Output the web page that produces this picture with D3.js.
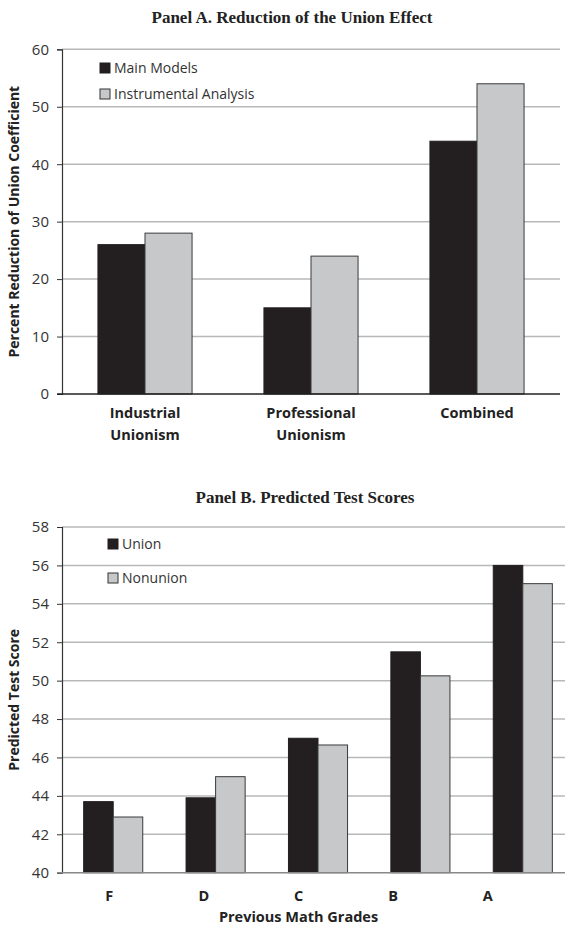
<!DOCTYPE html>
<html>
<head>
<meta charset="utf-8">
<script src="https://cdn.jsdelivr.net/npm/d3@7"></script>
<style>
    body { margin: 0; background: #fff; }
    svg { display: block; }
    .tick-label { font-family: "Open Sans", sans-serif; font-size: 15px; fill: #333; }
    .cat-label { font-family: "Open Sans", sans-serif; font-size: 14.5px; font-weight: bold; fill: #222; }
    .axis-title { font-family: "Open Sans", sans-serif; font-size: 14px; font-weight: bold; fill: #222; }
    .legend-text { font-family: "Open Sans", sans-serif; font-size: 14px; fill: #333; }
    .panel-title { font-family: "Liberation Serif", "Times New Roman", serif; font-size: 17px; font-weight: bold; fill: #222; }
</style>
</head>
<body>
<script>
    // Panel A data
    var catsA = [['Industrial', 'Unionism'], ['Professional', 'Unionism'], ['Combined']];
    var mainModels = [26, 15, 44];
    var instrumental = [28, 24, 54];
    var ticksA = [0, 10, 20, 30, 40, 50, 60];
    var seriesA = ['Main Models', 'Instrumental Analysis'];

    // Panel B data
    var grades = ['F', 'D', 'C', 'B', 'A'];
    var unionScores = [43.7, 43.9, 47.0, 51.5, 56.0];
    var nonunionScores = [42.9, 45.0, 46.65, 50.25, 55.05];
    var ticksB = [40, 42, 44, 46, 48, 50, 52, 54, 56, 58];
    var seriesB = ['Union', 'Nonunion'];

    var width = 565;
    var height = 926;
    var dark = '#231f20';
    var light = '#c7c8ca';

    var svg = d3.select('body')
        .append('svg')
        .attr('width', width)
        .attr('height', height);

    function drawPanel(opt) {
        var g = svg.append('g');
        var ids = opt.cats.map(function (d, i) { return i; });

        var x = d3.scaleBand()
            .domain(ids)
            .range([opt.left, opt.right])
            .paddingInner(opt.pad)
            .paddingOuter(opt.pad / 2);

        var xLabel = d3.scaleBand()
            .domain(ids)
            .range([opt.left, opt.labelRight]);

        var x1 = d3.scaleBand()
            .domain([0, 1])
            .range([0, x.bandwidth()]);

        var y = d3.scaleLinear()
            .domain(opt.domain)
            .range([opt.bottom, opt.top]);

        // gridlines
        g.selectAll('line.grid')
            .data(opt.ticks.slice(1))
            .enter()
            .append('line')
            .attr('class', 'grid')
            .attr('x1', opt.left)
            .attr('x2', opt.gridRight)
            .attr('y1', function (d) { return y(d); })
            .attr('y2', function (d) { return y(d); })
            .attr('stroke', '#b8b8b8')
            .attr('stroke-width', 1.5);

        // y axis
        var yAxis = d3.axisLeft(y)
            .tickValues(opt.ticks)
            .tickSize(5)
            .tickPadding(8);

        var ya = g.append('g')
            .attr('transform', 'translate(' + opt.left + ',0)')
            .call(yAxis);
        ya.select('.domain').attr('stroke', '#333').attr('stroke-width', 1.2);
        ya.selectAll('.tick line').attr('stroke', '#333');
        ya.selectAll('.tick text')
            .attr('class', 'tick-label')
            .attr('font-family', null)
            .attr('font-size', null)
            .attr('fill', null);

        // bars
        var rows = opt.cats.map(function (d, i) {
            return [opt.a[i], opt.b[i]];
        });

        var groups = g.selectAll('g.group')
            .data(rows)
            .enter()
            .append('g')
            .attr('class', 'group')
            .attr('transform', function (d, i) { return 'translate(' + x(i) + ',0)'; });

        groups.selectAll('rect')
            .data(function (d) { return d; })
            .enter()
            .append('rect')
            .attr('x', function (d, j) { return x1(j); })
            .attr('y', function (d) { return y(d); })
            .attr('width', x1.bandwidth())
            .attr('height', function (d) { return y(opt.domain[0]) - y(d); })
            .attr('fill', function (d, j) { return j === 0 ? dark : light; })
            .attr('stroke', function (d, j) { return j === 0 ? dark : '#3a3a3a'; })
            .attr('stroke-width', 1);

        // baseline
        g.append('line')
            .attr('x1', opt.left - 5)
            .attr('x2', opt.gridRight)
            .attr('y1', y(opt.domain[0]))
            .attr('y2', y(opt.domain[0]))
            .attr('stroke', opt.baseColor)
            .attr('stroke-width', 1.6);

        // category labels
        var labels = g.selectAll('text.cat')
            .data(opt.cats)
            .enter()
            .append('text')
            .attr('class', 'cat-label')
            .attr('text-anchor', 'middle')
            .attr('x', function (d, i) { return xLabel(i) + xLabel.bandwidth() / 2; })
            .attr('y', opt.bottom + opt.labelDy);

        labels.selectAll('tspan')
            .data(function (d) { return Array.isArray(d) ? d : [d]; })
            .enter()
            .append('tspan')
            .attr('x', function () { return d3.select(this.parentNode).attr('x'); })
            .attr('dy', function (d, k) { return k === 0 ? 0 : 22; })
            .text(function (d) { return d; });

        // y axis title
        g.append('text')
            .attr('class', 'axis-title')
            .attr('text-anchor', 'middle')
            .attr('transform', 'translate(' + opt.yTitleX + ',' + (opt.top + opt.bottom) / 2 + ') rotate(-90)')
            .text(opt.yTitle);

        // x axis title
        if (opt.xTitle) {
            g.append('text')
                .attr('class', 'cat-label')
                .attr('text-anchor', 'middle')
                .attr('x', (opt.left + opt.labelRight) / 2)
                .attr('y', opt.bottom + opt.xTitleDy)
                .text(opt.xTitle);
        }

        // panel title
        g.append('text')
            .attr('class', 'panel-title')
            .attr('text-anchor', 'middle')
            .attr('x', opt.titleX)
            .attr('y', opt.titleY)
            .text(opt.title);

        // legend
        var leg = g.selectAll('g.legend')
            .data(opt.series)
            .enter()
            .append('g')
            .attr('class', 'legend')
            .attr('transform', function (d, i) {
                return 'translate(' + opt.legendX + ',' + (opt.legendY + i * opt.legendGap) + ')';
            });

        leg.append('rect')
            .attr('x', 0)
            .attr('y', -5)
            .attr('width', 10)
            .attr('height', 10)
            .attr('fill', function (d, i) { return i === 0 ? dark : light; })
            .attr('stroke', function (d, i) { return i === 0 ? dark : '#333'; })
            .attr('stroke-width', 1);

        leg.append('text')
            .attr('class', 'legend-text')
            .attr('x', 14)
            .attr('dy', '0.35em')
            .text(function (d) { return d; });
    }

    drawPanel({
        cats: catsA,
        a: mainModels,
        b: instrumental,
        ticks: ticksA,
        domain: [0, 60],
        series: seriesA,
        left: 62,
        right: 560,
        gridRight: 560,
        labelRight: 560,
        top: 49.3,
        bottom: 394,
        pad: 0.433,
        baseColor: '#222',
        labelDy: 24,
        yTitle: 'Percent Reduction of Union Coefficient',
        yTitleX: 19,
        title: 'Panel A. Reduction of the Union Effect',
        titleX: 292,
        titleY: 23,
        legendX: 100,
        legendY: 68,
        legendGap: 26
    });

    drawPanel({
        cats: grades,
        a: unionScores,
        b: nonunionScores,
        ticks: ticksB,
        domain: [40, 58],
        series: seriesB,
        left: 62,
        right: 574,
        gridRight: 574,
        labelRight: 535,
        top: 527,
        bottom: 872.7,
        pad: 0.423,
        baseColor: '#888',
        labelDy: 28,
        xTitle: 'Previous Math Grades',
        xTitleDy: 49,
        yTitle: 'Predicted Test Score',
        yTitleX: 19,
        title: 'Panel B. Predicted Test Scores',
        titleX: 305,
        titleY: 503,
        legendX: 108,
        legendY: 544,
        legendGap: 34
    });
</script>
</body>
</html>
